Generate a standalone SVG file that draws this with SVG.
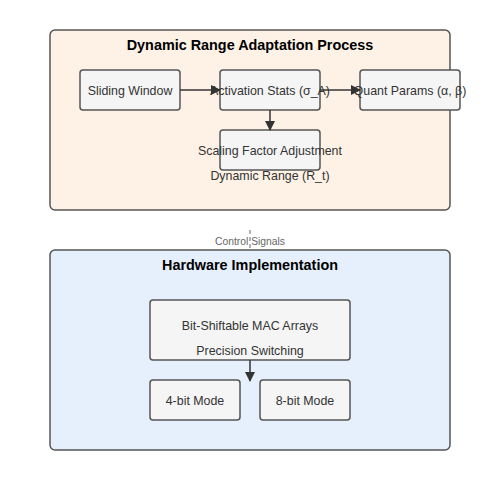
<svg xmlns="http://www.w3.org/2000/svg" width="500" height="500" viewBox="0 0 500 500">
<defs>
<marker id="arr" markerWidth="10" markerHeight="10" refX="9" refY="5" orient="auto" markerUnits="userSpaceOnUse">
<path d="M0,0 L10,5 L0,10 z" fill="#333"/>
</marker>
<style>
text{font-family:"Liberation Sans",Arial,sans-serif;fill:#333;}
.grp{stroke:#555;stroke-width:1.5;}
.node{fill:#f5f5f5;stroke:#555;stroke-width:1.5;}
.title{font-size:14.4px;font-weight:bold;fill:#000;}
.lbl{font-size:12.4px;}
.conn{stroke:#333;stroke-width:1.5;fill:none;marker-end:url(#arr);}
</style>
</defs>
<rect width="500" height="500" fill="#fff"/>
<g id="adaptation">
<rect class="grp" x="50" y="30" width="400" height="180" rx="5" fill="#fef2e6"/>
<text class="title" x="250" y="50" text-anchor="middle">Dynamic Range Adaptation Process</text>
</g>
<g id="hardware">
<rect class="grp" x="50" y="250" width="400" height="200" rx="5" fill="#e5f0fc"/>
<text class="title" x="250" y="270" text-anchor="middle">Hardware Implementation</text>
</g>
<g id="sliding-window">
<rect class="node" x="80" y="70" width="100" height="40" rx="3"/>
<text class="lbl" x="130" y="95" text-anchor="middle">Sliding Window</text>
</g>
<g id="activation-stats">
<rect class="node" x="220" y="70" width="100" height="40" rx="3"/>
<text class="lbl" x="270" y="95" text-anchor="middle">Activation Stats (σ_A)</text>
</g>
<g id="quant-params">
<rect class="node" x="360" y="70" width="100" height="40" rx="3"/>
<text class="lbl" x="410" y="95" text-anchor="middle">Quant Params (α, β)</text>
</g>
<g id="scaling-factor">
<rect class="node" x="220" y="130" width="100" height="40" rx="3"/>
<text class="lbl" x="270" y="155" text-anchor="middle">Scaling Factor Adjustment</text>
<text class="lbl" x="270" y="180" text-anchor="middle">Dynamic Range (R_t)</text>
</g>
<g id="mac-arrays">
<rect class="node" x="150" y="300" width="200" height="60" rx="3"/>
<text class="lbl" x="250" y="330" text-anchor="middle">Bit-Shiftable MAC Arrays</text>
<text class="lbl" x="250" y="355" text-anchor="middle">Precision Switching</text>
</g>
<g id="mode-4bit">
<rect class="node" x="150" y="380" width="90" height="40" rx="3"/>
<text class="lbl" x="195" y="405" text-anchor="middle">4-bit Mode</text>
</g>
<g id="mode-8bit">
<rect class="node" x="260" y="380" width="90" height="40" rx="3"/>
<text class="lbl" x="305" y="405" text-anchor="middle">8-bit Mode</text>
</g>
<g id="connectors">
<line class="conn" x1="180" y1="90" x2="220" y2="90"/>
<line class="conn" x1="320" y1="90" x2="360" y2="90"/>
<line class="conn" x1="270" y1="110" x2="270" y2="130"/>
<line class="conn" x1="250" y1="360" x2="250" y2="381"/>
<line x1="250" y1="230" x2="250" y2="250" stroke="#999" stroke-width="1.5" stroke-dasharray="4,3"/>
<text x="250" y="245" text-anchor="middle" font-size="10.3" style="fill:#666">Control Signals</text>
</g>
</svg>
